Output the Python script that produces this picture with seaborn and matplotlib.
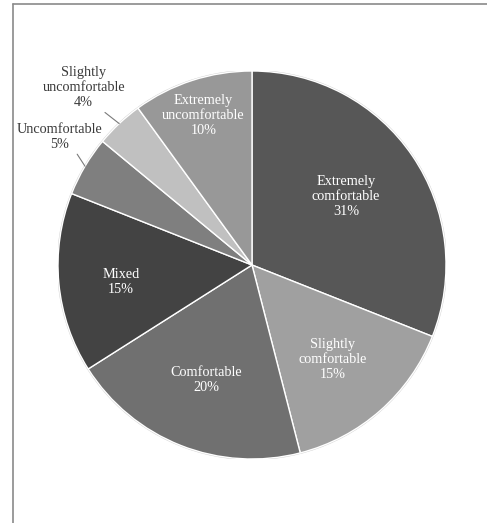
import numpy as np
import matplotlib
matplotlib.use("Agg")
import matplotlib.pyplot as plt
import seaborn as sns
from matplotlib.lines import Line2D
from matplotlib.patches import Circle

categories = ["Extremely\ncomfortable", "Slightly\ncomfortable", "Comfortable", "Mixed",
              "Uncomfortable", "Slightly\nuncomfortable", "Extremely\nuncomfortable"]
values = [31, 15, 20, 15, 5, 4, 10]
colors = ["#575757", "#a0a0a0", "#707070", "#434343", "#7f7f7f", "#c0c0c0", "#989898"]

# label layout: (radius, angle offset in deg, inside?, leader relpos)
label_layout = [(0.60, 2, True, None), (0.64, -1, True, None), (0.64, 0, True, None),
                (0.68, 2, True, None), (1.19, -3.1, False, (0.62, 0.1)),
                (1.26, 0.3, False, (0.63, 0.06)), (0.81, 0, True, None)]

sns.set_theme(style="white")
plt.rcParams["font.family"] = ["Liberation Serif", "DejaVu Serif"]

fig = plt.figure(figsize=(4.87, 5.23), dpi=100)
ax = fig.add_axes([58 / 487, (523 - 459) / 523, 388 / 487, 388 / 523])

wedges, _ = ax.pie(values, colors=colors, startangle=90, counterclock=False,
                   wedgeprops=dict(edgecolor="white", linewidth=1.0), radius=1.0)
ax.add_patch(Circle((0, 0), 1.0, fill=False, edgecolor="#cfcfcf", linewidth=1.5, zorder=0.5))

for w, cat, val, (r, off, inside, rp) in zip(wedges, categories, values, label_layout):
    mid = np.deg2rad((w.theta1 + w.theta2) / 2 + off)
    x, y = r * np.cos(mid), r * np.sin(mid)
    txt = f"{cat}\n{val}%"
    if inside:
        ax.text(x, y, txt, ha="center", va="center", color="white", fontsize=10.3,
                linespacing=1.2)
    else:
        emid = np.deg2rad((w.theta1 + w.theta2) / 2)
        ex, ey = np.cos(emid), np.sin(emid)
        ax.annotate(txt, xy=(ex, ey), xytext=(x, y), ha="center", va="center",
                    color="#3a3a3a", fontsize=10.3, linespacing=1.2,
                    arrowprops=dict(arrowstyle="-", color="#7a7a7a", lw=0.8,
                                    relpos=rp, shrinkA=0, shrinkB=0,
                                    connectionstyle="arc,angleA=0,angleB=0,armA=3,armB=0,rad=0"))

ax.set_xlim(-1, 1)
ax.set_ylim(-1, 1)
ax.set_aspect("equal")
ax.axis("off")

# outer frame (left and top)
fig.add_artist(Line2D([13 / 487, 13 / 487], [0, 1 - 4 / 523], color="#8a8a8a", lw=1.2))
fig.add_artist(Line2D([13 / 487, 1], [1 - 4 / 523, 1 - 4 / 523], color="#8a8a8a", lw=1.2))

fig.savefig("out.png", dpi=100, facecolor="white")
